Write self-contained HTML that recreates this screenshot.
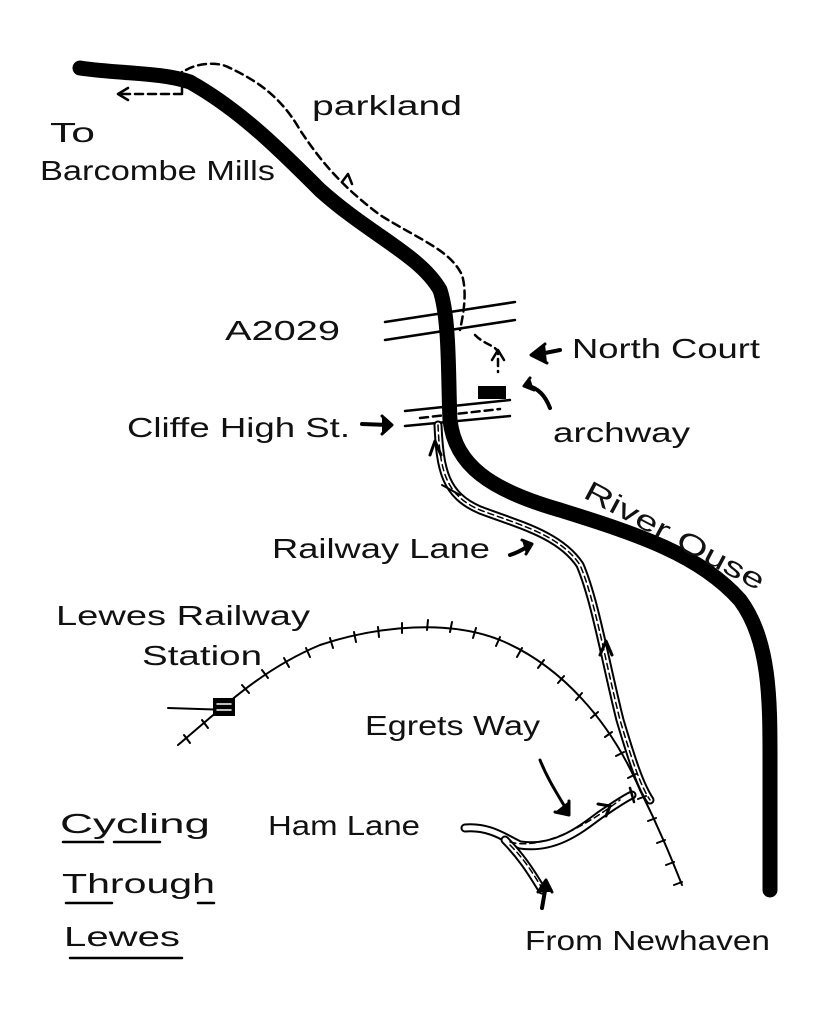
<!DOCTYPE html>
<html><head><meta charset="utf-8"><style>
html,body{margin:0;padding:0;background:#fff;width:840px;height:1024px;overflow:hidden}
svg text{font-family:"Liberation Sans",sans-serif;fill:#111;font-size:28px}
</style></head><body>
<svg width="840" height="1024" viewBox="0 0 840 1024" xmlns="http://www.w3.org/2000/svg">
<g fill="none" stroke="#000" stroke-linecap="round" stroke-linejoin="round">
<!-- river -->
<path d="M80,68 C120,74 160,72 190,82 C240,110 280,150 320,190 C370,235 420,255 440,290 C450,320 448,380 450,420 C455,465 490,490 560,510 C640,535 700,555 740,600 C770,640 770,700 770,760 L770,890" stroke-width="15"/>
<!-- dashed route top -->
<path d="M182,72 L182,94 M182,94 L118,94" stroke-width="2.5" stroke-dasharray="8,5"/>
<path d="M118,94 l10,-6 M118,94 l10,6" stroke-width="2.5"/>
<path d="M186,70 C200,62 220,62 230,68 C255,80 280,95 300,130 C320,160 340,185 380,215 C420,240 450,250 462,275 C468,295 462,320 460,330" stroke-width="2.5" stroke-dasharray="8,5"/>
<path d="M342,182 l6,-8 l4,10" stroke-width="2.5"/>
<!-- North court path -->
<path d="M475,335 C485,345 495,345 498,352 L498,372" stroke-width="2.5" stroke-dasharray="7,5"/>
<path d="M492,360 l6,-10 l6,10" stroke-width="2.5"/>
<rect x="478" y="386" width="28" height="13" fill="#000" stroke="none"/>
<!-- roads -->
<path d="M385,322 L515,302 M385,340 L515,320" stroke-width="2.5"/>
<path d="M405,411 L510,400 M405,426 L510,416" stroke-width="2.5"/>
<path d="M420,418 L500,409" stroke-width="2.5" stroke-dasharray="8,5"/>
<!-- railway lane -->
<path d="M438,425 C440,470 445,495 480,510 C520,525 560,535 580,565 C595,600 605,660 620,720 C632,760 640,785 650,800" stroke-width="9"/>
<path d="M438,425 C440,470 445,495 480,510 C520,525 560,535 580,565 C595,600 605,660 620,720 C632,760 640,785 650,800" stroke-width="5" stroke="#fff"/>
<path d="M438,425 C440,470 445,495 480,510 C520,525 560,535 580,565 C595,600 605,660 620,720 C632,760 640,785 650,800" stroke-width="1.5" stroke-dasharray="6,4"/>
<path d="M442,485 L460,495" stroke-width="2"/>
<path d="M430,455 l5,-14 l6,14" stroke-width="3"/>
<path d="M600,655 l6,-14 l6,14" stroke-width="3"/>
<!-- railway track -->
<path d="M178,745 C220,710 260,670 320,645 C380,625 450,620 500,640 C560,665 610,720 640,790 C660,830 672,860 682,885" stroke-width="2"/>
<path d="M168,708 L230,710" stroke-width="2"/>
<g stroke-width="2">
<path d="M184,735 l6,8 M202,720 l6,8 M222,700 l7,8 M242,685 l7,8 M262,670 l6,8 M284,658 l5,9 M306,648 l4,9 M330,638 l3,10 M354,632 l2,10 M378,627 l1,10 M402,623 l0,10 M428,620 l-1,10 M452,622 l-2,10 M476,628 l-3,10 M500,637 l-4,9 M522,648 l-5,9 M544,660 l-6,8 M564,676 l-6,7 M582,693 l-6,7 M598,712 l-7,6 M612,732 l-7,5 M624,752 l-8,4 M636,774 l-8,4 M646,796 l-8,3 M656,818 l-8,3 M665,840 l-8,3 M674,862 l-8,3 M682,882 l-8,3"/>
</g>
<rect x="213" y="698" width="22" height="18" fill="#000" stroke="none"/>
<path d="M217,704 h14 M217,710 h14" stroke="#fff" stroke-width="1.5"/>
<!-- egrets way -->
<path d="M465,828 C490,826 505,838 520,845 C555,850 580,830 600,815 C615,805 625,798 632,795" stroke-width="9"/>
<path d="M465,828 C490,826 505,838 520,845 C555,850 580,830 600,815 C615,805 625,798 632,795" stroke-width="5" stroke="#fff"/>
<path d="M505,840 C520,855 530,870 542,890" stroke-width="9"/>
<path d="M505,840 C520,855 530,870 542,890" stroke-width="5" stroke="#fff"/>
<path d="M510,842 C540,850 580,830 620,800 M510,845 C525,860 532,872 542,888" stroke-width="1.5" stroke-dasharray="6,4"/>
<path d="M630,788 L634,802" stroke-width="2.5"/>
<path d="M598,804 l12,2 l-4,10" stroke-width="3"/>
<!-- pointer arrows -->
<path d="M540,760 C548,780 558,795 568,812" stroke-width="3"/>
<path d="M555,812 l14,3 l0,-14" stroke-width="3" fill="#000"/>
<path d="M560,350 L535,355" stroke-width="4"/>
<path d="M545,344 l-14,11 l16,8" stroke-width="3" fill="#000"/>
<path d="M550,408 C545,395 538,388 528,386" stroke-width="4"/>
<path d="M530,378 l-6,8 l10,4" stroke-width="3" fill="#000"/>
<path d="M362,424 L390,425" stroke-width="4"/>
<path d="M382,416 l10,9 l-10,9" stroke-width="3" fill="#000"/>
<path d="M510,555 C520,552 525,548 530,545" stroke-width="4"/>
<path d="M522,540 l10,4 l-6,10" stroke-width="3" fill="#000"/>
<path d="M542,908 L546,885" stroke-width="4"/>
<path d="M538,892 l8,-12 l6,12" stroke-width="3" fill="#000"/>
<!-- title underlines -->
<path d="M63,842 H103 M114,842 H160 M66,903 H112 M198,903 H214 M70,958 H182" stroke-width="2.5"/>
</g>
<text x="50" y="142" font-size="24" textLength="45" lengthAdjust="spacingAndGlyphs">To</text>
<text x="40" y="180" textLength="235" lengthAdjust="spacingAndGlyphs">Barcombe Mills</text>
<text x="312" y="115" textLength="150" lengthAdjust="spacingAndGlyphs">parkland</text>
<text x="225" y="340" textLength="115" lengthAdjust="spacingAndGlyphs">A2029</text>
<text x="572" y="358" font-size="32" textLength="188" lengthAdjust="spacingAndGlyphs">North Court</text>
<text x="127" y="437" textLength="223" lengthAdjust="spacingAndGlyphs">Cliffe High St.</text>
<text x="553" y="442" font-size="30" textLength="137" lengthAdjust="spacingAndGlyphs">archway</text>
<text x="582" y="497" transform="rotate(28 582 497)" font-size="30" textLength="200" lengthAdjust="spacingAndGlyphs">River Ouse</text>
<text x="272" y="558" textLength="218" lengthAdjust="spacingAndGlyphs">Railway Lane</text>
<text x="56" y="625" font-size="30" textLength="254" lengthAdjust="spacingAndGlyphs">Lewes Railway</text>
<text x="142" y="665" font-size="30" textLength="120" lengthAdjust="spacingAndGlyphs">Station</text>
<text x="365" y="735" font-size="30" textLength="175" lengthAdjust="spacingAndGlyphs">Egrets Way</text>
<text x="268" y="835" textLength="152" lengthAdjust="spacingAndGlyphs">Ham Lane</text>
<text x="60" y="833" font-size="40" textLength="150" lengthAdjust="spacingAndGlyphs">Cycling</text>
<text x="62" y="893" font-size="40" textLength="153" lengthAdjust="spacingAndGlyphs">Through</text>
<text x="64" y="946" font-size="40" textLength="116" lengthAdjust="spacingAndGlyphs">Lewes</text>
<text x="525" y="950" font-size="30" textLength="245" lengthAdjust="spacingAndGlyphs">From Newhaven</text>
</svg>
</body></html>
